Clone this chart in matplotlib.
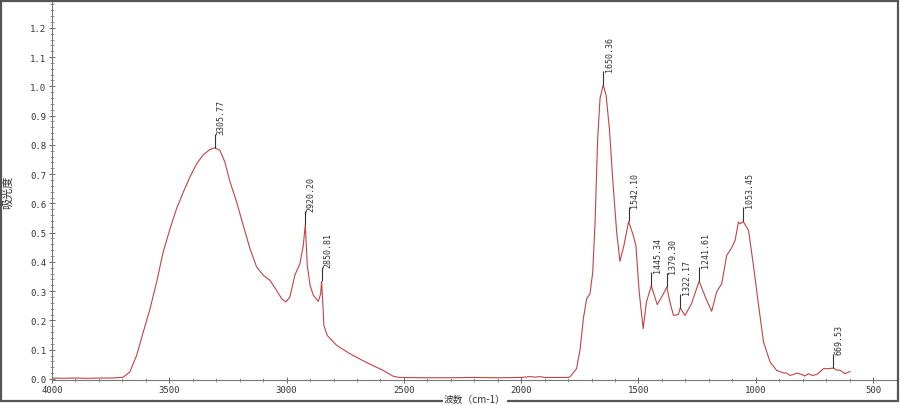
import numpy as np
import matplotlib.pyplot as plt
from matplotlib.patches import Rectangle
from matplotlib.ticker import MultipleLocator, FormatStrFormatter

# wavenumber (cm-1) and absorbance
wavenumber = [4000, 3950, 3900, 3850, 3800, 3753, 3720, 3696, 3668, 3639, 3611, 3582,
              3554, 3526, 3497, 3469, 3440, 3412, 3383, 3355, 3327, 3305.77, 3284,
              3263, 3241, 3213, 3185, 3156, 3128, 3099, 3071, 3043, 3021, 3003, 2986,
              2965, 2943, 2929, 2920.20, 2912, 2900, 2886, 2865, 2855, 2850.81, 2845,
              2841, 2827, 2787, 2730, 2659, 2588, 2545, 2520, 2400, 2300, 2200, 2100,
              2000, 1960, 1940, 1920, 1900, 1850, 1800, 1792, 1764, 1749, 1735, 1721,
              1707, 1695, 1685, 1674, 1664, 1650.36, 1638, 1624, 1610, 1593, 1579,
              1562, 1542.10, 1522, 1511, 1497, 1480, 1466, 1445.34, 1420, 1397,
              1379.30, 1366, 1351, 1330, 1322.17, 1302, 1274, 1241.61, 1212, 1188,
              1167, 1145, 1124, 1103, 1088, 1074, 1066, 1053.45, 1031, 1010, 988, 967,
              939, 911, 880, 868, 855, 840, 826, 804, 790, 776, 760, 740, 725, 712,
              690, 669.53, 655, 641, 620, 610, 598]
absorbance = [0.003, 0.002, 0.003, 0.002, 0.003, 0.003, 0.004, 0.006, 0.024, 0.081,
              0.16, 0.24, 0.331, 0.434, 0.513, 0.582, 0.639, 0.69, 0.736, 0.766, 0.784,
              0.79, 0.781, 0.741, 0.673, 0.605, 0.525, 0.445, 0.383, 0.354, 0.337,
              0.303, 0.274, 0.263, 0.28, 0.354, 0.394, 0.456, 0.527, 0.39, 0.32, 0.286,
              0.265, 0.29, 0.333, 0.25, 0.183, 0.149, 0.115, 0.086, 0.056, 0.029,
              0.009, 0.005, 0.004, 0.004, 0.005, 0.004, 0.005, 0.008, 0.006, 0.008,
              0.005, 0.005, 0.005, 0.007, 0.035, 0.10, 0.206, 0.274, 0.29, 0.365,
              0.536, 0.82, 0.958, 1.005, 0.969, 0.855, 0.684, 0.502, 0.402, 0.456,
              0.538, 0.49, 0.456, 0.297, 0.172, 0.263, 0.318, 0.254, 0.286, 0.314,
              0.263, 0.217, 0.22, 0.243, 0.217, 0.257, 0.334, 0.274, 0.231, 0.297,
              0.326, 0.422, 0.448, 0.474, 0.536, 0.53, 0.538, 0.508, 0.388, 0.251,
              0.126, 0.058, 0.029, 0.02, 0.02, 0.012, 0.015, 0.02, 0.015, 0.01, 0.018,
              0.012, 0.015, 0.025, 0.035, 0.035, 0.037, 0.03, 0.03, 0.018, 0.022, 0.025]

peak_wn = [3305.77, 2920.20, 2850.81, 1650.36, 1542.10, 1445.34, 1379.30, 1322.17,
           1241.61, 1053.45, 669.53]
peak_abs = [0.79, 0.527, 0.333, 1.005, 0.538, 0.318, 0.314, 0.243, 0.334, 0.538, 0.037]

mono = 'DejaVu Sans Mono'
cjk = ['Noto Sans CJK SC', 'DejaVu Sans']

fig = plt.figure(figsize=(9, 4.06), dpi=100)
ax = fig.add_axes([52 / 900, 1 - 380.5 / 406, 845 / 900, 379.5 / 406])

ax.plot(wavenumber, absorbance, color='#c24444', lw=0.8)

# peak markers
ax.vlines(peak_wn, peak_abs, np.array(peak_abs) + 0.048, color='#333333', lw=0.8)
for w, a in zip(peak_wn, peak_abs):
    ax.annotate(f'{w:.2f}', xy=(w, a + 0.048), xytext=(4.3, 0), textcoords='offset points',
                rotation=90, ha='center', va='bottom', fontsize=6, family=mono,
                color='#333333')

ax.set_xlim(4000, 398)
ax.set_ylim(-0.002, 1.295)
ax.xaxis.set_major_locator(MultipleLocator(500))
ax.xaxis.set_minor_locator(MultipleLocator(100))
ax.yaxis.set_major_locator(MultipleLocator(0.1))
ax.yaxis.set_minor_locator(MultipleLocator(0.02))
ax.yaxis.set_major_formatter(FormatStrFormatter('%.1f'))

for s in ['top', 'right']:
    ax.spines[s].set_visible(False)
for s in ['left', 'bottom']:
    ax.spines[s].set_color('#777777')
    ax.spines[s].set_linewidth(0.8)

ax.tick_params(which='major', direction='inout', length=5, width=0.7, color='#666666',
               labelsize=6.5, labelcolor='#333333', pad=1.5)
ax.tick_params(which='minor', direction='inout', length=3, width=0.6, color='#888888')
for lab in ax.get_xticklabels() + ax.get_yticklabels():
    lab.set_family(mono)

# outer frame of the figure
fig.add_artist(Rectangle((1 / 900, 1 - 402 / 406), 897 / 900, 400.5 / 406,
                         transform=fig.transFigure, fill=False, ec='#555555', lw=1.6))

fig.text(475 / 900, 1 - 399.5 / 406, '波数（cm-1）', ha='center', va='center',
         fontsize=7, family=cjk, color='#333333',
         bbox=dict(fc='white', ec='none', pad=0.5))
fig.text(8 / 900, 1 - 192 / 406, '吸光度', rotation=90, ha='center', va='center',
         fontsize=8, family=cjk, color='#333333')

fig.savefig('out.png', dpi=100)
